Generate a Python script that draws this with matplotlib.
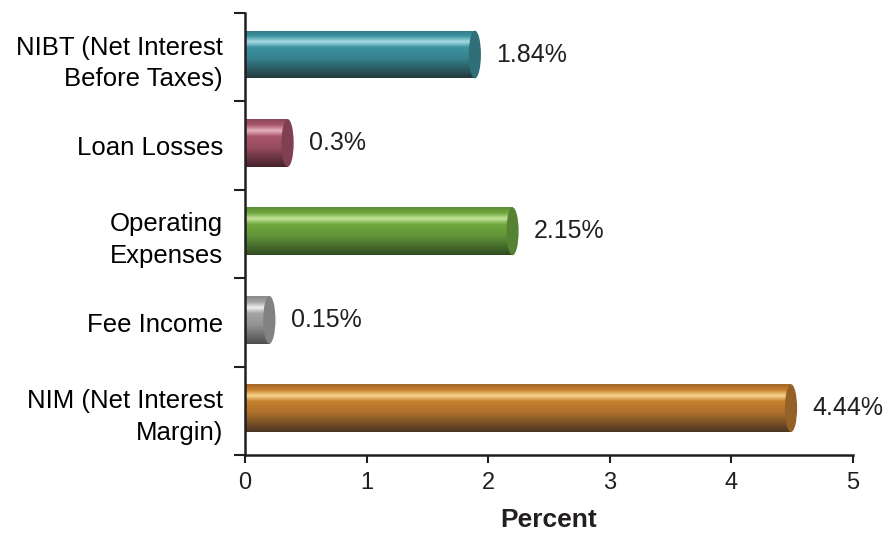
import numpy as np
import matplotlib
matplotlib.use('Agg')
import matplotlib.pyplot as plt
from matplotlib.patches import Rectangle, Ellipse
from matplotlib.colors import to_rgb

plt.rcParams['font.family'] = ['Liberation Sans', 'DejaVu Sans']

# data
cats = ['NIBT (Net Interest\nBefore Taxes)', 'Loan Losses', 'Operating\nExpenses',
        'Fee Income', 'NIM (Net Interest\nMargin)']
vals = [1.84, 0.3, 2.15, 0.15, 4.44]
labels = ['1.84%', '0.3%', '2.15%', '0.15%', '4.44%']

# (highlight, mid, dark) per bar
cols = [('#a9dbe3', '#3a93a0', '#23393c'),
        ('#e7b3c0', '#a9566b', '#45202a'),
        ('#c4e39a', '#6fa83e', '#2f4a22'),
        ('#efefef', '#a4a4a4', '#4e4e4e'),
        ('#f5d68c', '#c67f2e', '#4a3522')]

fig = plt.figure(figsize=(8.92, 5.4), dpi=100)
ax = fig.add_axes([0.2747, 0.1574, 0.6816, 0.8186])

h = 0.54
off = 0.05
capw = 0.1
ink = '#231f20'

def grad(hi, mid, dk, n=200):
    hi, mid, dk = np.array(to_rgb(hi)), np.array(to_rgb(mid)), np.array(to_rgb(dk))
    # position from top (0) to bottom (1)
    stops = [(0.0, mid * 0.7 + dk * 0.3), (0.12, mid), (0.24, hi), (0.36, mid),
             (0.6, mid * 0.8 + dk * 0.2), (1.0, dk)]
    t = np.linspace(0, 1, n)
    out = np.zeros((n, 1, 3))
    for c in range(3):
        out[:, 0, c] = np.interp(t, [s[0] for s in stops], [s[1][c] for s in stops])
    return out

for i, (v, lab, (hi, mid, dk)) in enumerate(zip(vals, labels, cols)):
    x1 = v + off
    yc = i - 0.03
    img = grad(hi, mid, dk)
    im = ax.imshow(img, extent=[0, x1, yc + h / 2, yc - h / 2], aspect='auto',
                   interpolation='bilinear', zorder=2)
    rect = Rectangle((0, yc - h / 2), x1, h, transform=ax.transData)
    im.set_clip_path(rect)
    midc = np.array(to_rgb(mid)); dkc = np.array(to_rgb(dk))
    ax.add_patch(Ellipse((x1, yc), capw, h, facecolor=midc * 0.6 + dkc * 0.4,
                         edgecolor='none', zorder=3))
    ax.annotate(lab, (x1 + capw / 2, yc), xytext=(11, 0), textcoords='offset points',
                va='center', ha='left', fontsize=18, color=ink)

ax.set_xlim(0, 5)
ax.set_ylim(4.5, -0.5)
ax.set_xticks(range(6))
ax.set_yticks(np.arange(-0.5, 5, 1))
ax.set_yticklabels([])
ax.set_yticks(range(5), minor=True)
ax.set_yticklabels(cats, minor=True, fontsize=18.5, linespacing=1.4)
ax.tick_params(axis='y', which='minor', length=0, pad=16)
ax.tick_params(axis='y', which='major', length=8, width=1.5, color=ink)
ax.tick_params(axis='x', length=6, width=1.5, color=ink, labelsize=17, labelcolor=ink, pad=6)
for s in ['top', 'right']:
    ax.spines[s].set_visible(False)
for s in ['left', 'bottom']:
    ax.spines[s].set_linewidth(1.8)
    ax.spines[s].set_color(ink)
ax.set_xlabel('Percent', fontsize=19, fontweight='bold', color=ink, labelpad=10)

plt.savefig('out.png', dpi=100)
